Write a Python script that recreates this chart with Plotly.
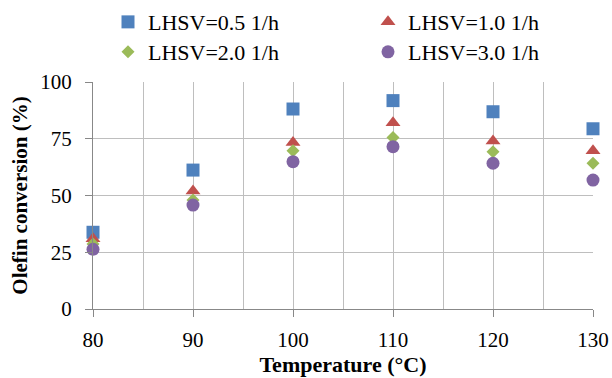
import plotly.graph_objects as go

temperature = [80, 90, 100, 110, 120, 130]
lhsv_05 = [33.8, 61.2, 88.1, 91.8, 86.9, 79.4]
lhsv_10 = [31.0, 52.0, 73.3, 82.1, 74.0, 69.7]
lhsv_20 = [28.6, 48.0, 69.7, 75.6, 69.3, 64.2]
lhsv_30 = [26.3, 45.8, 64.9, 71.5, 64.2, 56.8]

series_names = ["LHSV=0.5 1/h", "LHSV=1.0 1/h", "LHSV=2.0 1/h", "LHSV=3.0 1/h"]
series_values = [lhsv_05, lhsv_10, lhsv_20, lhsv_30]
colors = ["#4F81BD", "#C0504D", "#9BBB59", "#8064A2"]
symbols = ["square", "triangle-up", "diamond", "circle"]
sizes = [13, 13, 10, 13]
legend_ids = ["legend2", "legend3", "legend4", "legend5"]
legend_pos = [(0.03, 1.264), (0.55, 1.264), (0.03, 1.132), (0.55, 1.132)]

FONT = "Liberation Serif, Times New Roman, serif"

fig = go.Figure()
for name, vals, c, s, sz, lg in zip(series_names, series_values, colors, symbols, sizes, legend_ids):
    fig.add_trace(go.Scatter(
        x=temperature, y=vals, mode="markers", name=name,
        marker=dict(symbol=s, size=sz, color=c, line=dict(width=0)),
        cliponaxis=False, legend=lg,
    ))

legends = {}
for lg, (lx, ly) in zip(legend_ids, legend_pos):
    legends[lg] = dict(
        x=lx, y=ly, orientation="h", xanchor="left", yanchor="middle",
        font=dict(family=FONT, size=22, color="#000"),
        bgcolor="rgba(0,0,0,0)", itemclick=False, itemdoubleclick=False,
    )

fig.update_layout(
    width=612, height=378,
    margin=dict(l=93, r=19, t=82, b=69, autoexpand=False),
    paper_bgcolor="white", plot_bgcolor="white",
    font=dict(family=FONT, size=21, color="#000"),
    **legends,
    xaxis=dict(
        range=[80, 130], tickvals=[80, 90, 100, 110, 120, 130],
        showgrid=True, gridcolor="#BEBEBE", gridwidth=1,
        minor=dict(dtick=5, tick0=80, showgrid=True, gridcolor="#BEBEBE", gridwidth=1),
        showline=True, linecolor="#888888", linewidth=1,
        ticks="outside", ticklen=7, tickcolor="#888888", ticklabelstandoff=5,
        tickfont=dict(family=FONT, size=21, color="#000"),
        title=dict(text="<b>Temperature (°C)</b>", font=dict(family=FONT, size=22, color="#000"), standoff=3),
        zeroline=False,
    ),
    yaxis=dict(
        range=[0, 100], tickvals=[0, 25, 50, 75, 100],
        showgrid=True, gridcolor="#BEBEBE", gridwidth=1,
        showline=True, linecolor="#888888", linewidth=1,
        ticks="outside", ticklen=7, tickcolor="#888888", ticklabelstandoff=9,
        tickfont=dict(family=FONT, size=21, color="#000"),
        title=dict(text="<b>Olefin conversion (%)</b>", font=dict(family=FONT, size=21, color="#000"), standoff=6),
        zeroline=False,
    ),
)

fig.write_html("out.html", config={"displayModeBar": False},
               post_script="document.body.style.margin='0';")
